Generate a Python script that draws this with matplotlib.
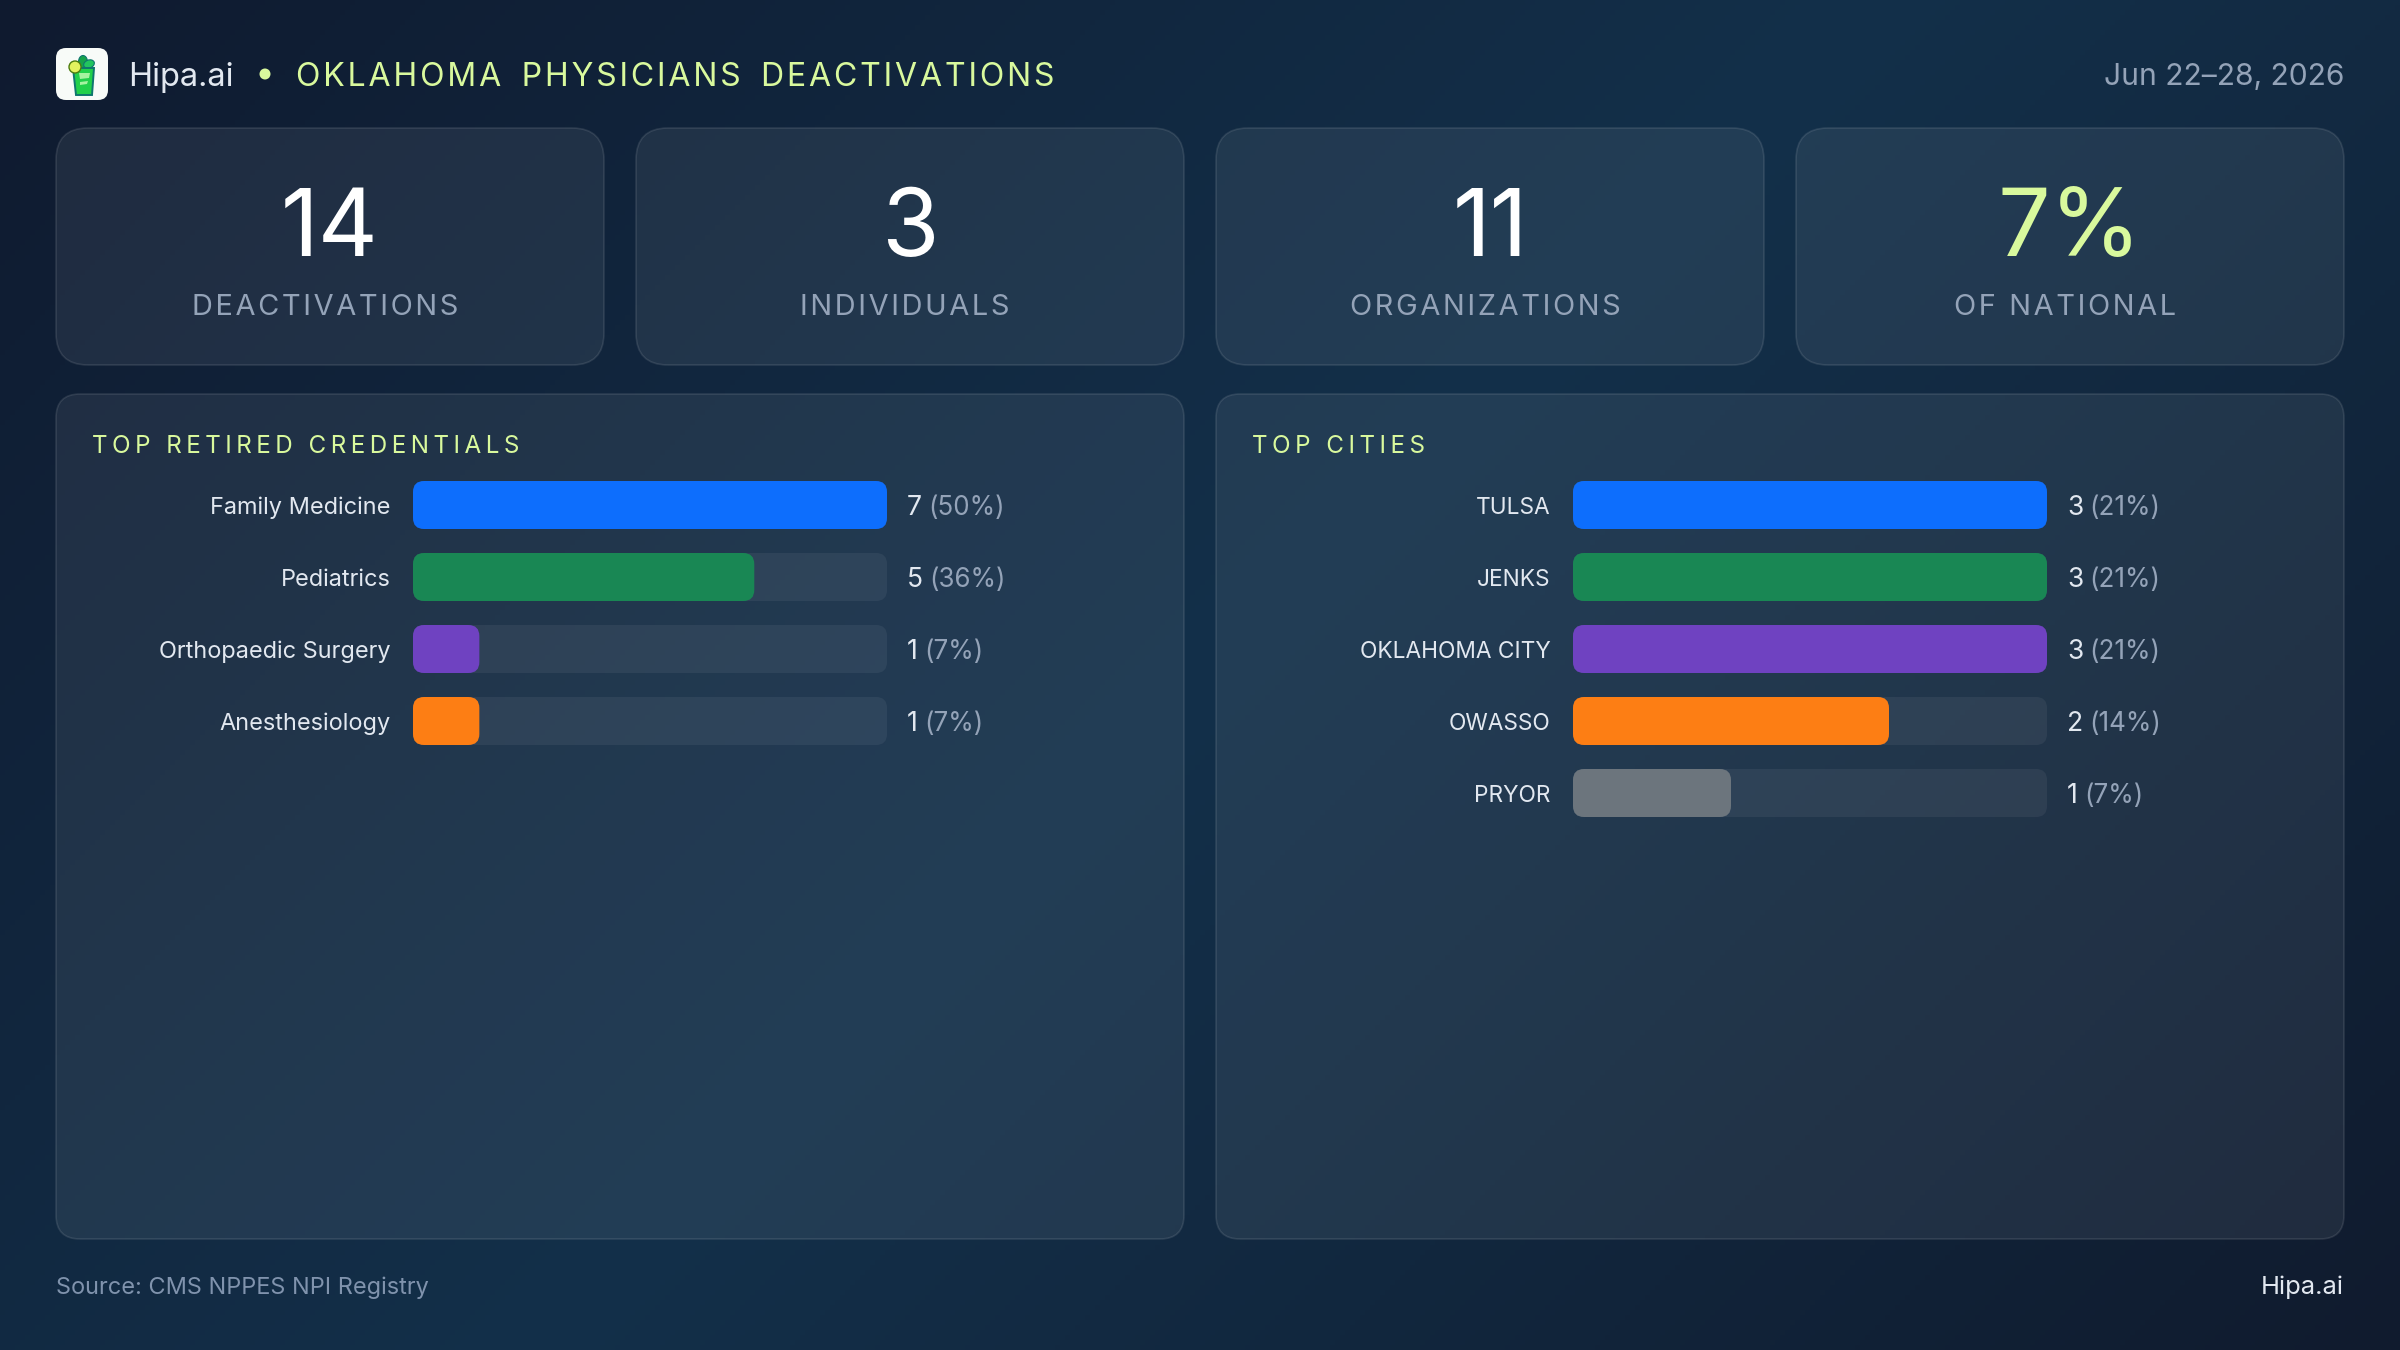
import matplotlib

matplotlib.use("Agg")
import matplotlib.pyplot as plt
import numpy as np
from matplotlib.colors import LinearSegmentedColormap
from matplotlib.patches import Circle, Ellipse, FancyBboxPatch, Polygon

W, H = 2400, 1350
PT = 0.72  # px to pt at dpi=100
FONT = ["Inter", "DejaVu Sans"]

ACCENT = "#d9f99d"
LIGHT = "#e2e8f0"
MUTED = "#94a3b8"
BAR_COLORS = ["#0d6efd", "#198754", "#6f42c1", "#fd7e14", "#6c757d"]

stat_values = ["14", "3", "11", "7%"]
stat_labels = ["DEACTIVATIONS", "INDIVIDUALS", "ORGANIZATIONS", "OF NATIONAL"]

credential_names = ["Family Medicine", "Pediatrics", "Orthopaedic Surgery", "Anesthesiology"]
credential_counts = [7, 5, 1, 1]
credential_shares = [50, 36, 7, 7]

city_names = ["TULSA", "JENKS", "OKLAHOMA CITY", "OWASSO", "PRYOR"]
city_counts = [3, 3, 3, 2, 1]
city_shares = [21, 21, 21, 14, 7]

plt.rcParams["font.family"] = FONT
fig = plt.figure(figsize=(W / 100, H / 100), dpi=100)

# full-figure axes in pixel coordinates, y pointing down
page = fig.add_axes([0, 0, 1, 1])
page.set_xlim(0, W)
page.set_ylim(H, 0)
page.axis("off")

# 135deg page gradient
xx, yy = np.meshgrid(np.linspace(0, 1, 480), np.linspace(0, 1, 270))
ramp = (xx * W + yy * H) / (W + H)
cmap = LinearSegmentedColormap.from_list("page", ["#0f1a2f", "#13304a", "#101b2e"])
page.imshow(ramp, cmap=cmap, vmin=0, vmax=1, extent=(0, W, H, 0), aspect="auto", zorder=0)


def tracked(text, hair=1, word_gap=0):
    # no letter-spacing in matplotlib, so pad with hair spaces
    spaced = ("\u200a" * hair).join(text)
    return spaced.replace(" ", "\u200a" * word_gap + " " + "\u200a" * word_gap)


def label(x, y, text, size, color, ha="left", ax=page):
    return ax.text(x, y, text, fontsize=size * PT, color=color, ha=ha, va="baseline", zorder=5)


def card(x0, y0, x1, y1, radius):
    page.add_patch(FancyBboxPatch(
        (x0, y0), x1 - x0, y1 - y0, boxstyle=f"round,pad=0,rounding_size={radius}",
        facecolor=(1, 1, 1, 0.07), edgecolor=(1, 1, 1, 0.1), linewidth=1.2, zorder=1,
    ))


def draw_logo():
    page.add_patch(FancyBboxPatch(
        (56, 48), 52, 52, boxstyle="round,pad=0,rounding_size=10",
        facecolor="#f8fbf8", edgecolor="none", zorder=2,
    ))
    page.add_patch(Ellipse((83, 62), 9, 13, facecolor="#16a34a", edgecolor="#0f766e", linewidth=0.8, zorder=3))
    page.add_patch(Ellipse((89, 64), 11, 8, angle=-20, facecolor="#22c55e", edgecolor="#0f766e", linewidth=0.8, zorder=3))
    page.add_patch(Polygon([(73, 68), (94, 68), (92, 95), (76, 95)], closed=True,
                           facecolor="#22d04a", edgecolor="#0f766e", linewidth=1.4, zorder=3))
    page.add_patch(Polygon([(79, 73), (90, 73), (89, 78), (80, 79)], closed=True,
                           facecolor="#a7f3a0", edgecolor="none", zorder=4))
    page.add_patch(Polygon([(80, 82), (88, 81), (87, 84), (80, 85)], closed=True,
                           facecolor="#a7f3a0", edgecolor="none", zorder=4))
    page.add_patch(Circle((75, 67), 6, facecolor="#e3f25e", edgecolor="#4d7c0f", linewidth=1, zorder=4))


def bar_chart(x0, names, counts, shares, name_size):
    track_w, pitch = 474, 72
    top = 481 - (pitch - 48) / 2
    ax = fig.add_axes([
        x0 / W, 1 - (top + pitch * len(names)) / H, track_w / W, pitch * len(names) / H,
    ])
    # bar length follows the share, scaled to the largest share in the panel
    peak = max(shares)
    ax.set_xlim(0, peak)
    ax.set_ylim(len(names) - 0.5, -0.5)
    ax.axis("off")

    h = 48 / pitch
    rx = 11 * peak / track_w
    aspect = (11 / pitch) / rx
    for i, (name, count, share) in enumerate(zip(names, counts, shares)):
        y = i - h / 2
        for width, color, z in [(peak, (1, 1, 1, 0.06), 2), (share, BAR_COLORS[i], 3)]:
            ax.add_patch(FancyBboxPatch(
                (0, y), width, h, boxstyle=f"round,pad=0,rounding_size={rx}",
                mutation_aspect=aspect, facecolor=color, edgecolor="none", zorder=z,
            ))
        baseline = i + 9 / pitch
        ax.annotate(name, (0, baseline), xytext=(-22.5 * PT, 0), textcoords="offset points",
                    ha="right", va="baseline", fontsize=name_size * PT, color=LIGHT, annotation_clip=False)
        num = ax.annotate(str(count), (peak, baseline + 1 / pitch), xytext=(20 * PT, 0),
                          textcoords="offset points", ha="left", va="baseline",
                          fontsize=26.5 * PT, color=LIGHT, annotation_clip=False)
        ax.annotate(f"({share}%)", xy=(1, 0), xycoords=num, xytext=(6 * PT, 0),
                    textcoords="offset points", ha="left", va="bottom",
                    fontsize=26 * PT, color=MUTED, annotation_clip=False)


draw_logo()
label(128, 86, "Hipa.ai", 32.5, LIGHT)
page.add_patch(Circle((265, 74), 5.5, facecolor=ACCENT, edgecolor="none", zorder=5))
label(296, 86, tracked("OKLAHOMA PHYSICIANS DEACTIVATIONS", word_gap=1), 32, ACCENT)
label(2344, 85, "Jun 22\u201328, 2026", 30, MUTED, ha="right")

for i, (value, text) in enumerate(zip(stat_values, stat_labels)):
    x0 = 56 + i * 580
    card(x0, 128, x0 + 548, 365, 32)
    center = x0 + 274
    color = ACCENT if value.endswith("%") else "white"
    label(center, 256, value, 93, color, ha="center")
    label(center - 5, 315, tracked(text), 29, MUTED, ha="center")

for x0, title, names, counts, shares, name_size in [
    (56, "TOP RETIRED CREDENTIALS", credential_names, credential_counts, credential_shares, 23.5),
    (1216, "TOP CITIES", city_names, city_counts, city_shares, 22.7),
]:
    card(x0, 394, x0 + 1128, 1239, 24)
    label(x0 + 36, 453, tracked(title, hair=2), 24.2, ACCENT)
    bar_chart(x0 + 357, names, counts, shares, name_size)

label(56, 1294, "Source: CMS NPPES NPI Registry", 23.5, "#8093ad")
label(2344, 1294, "Hipa.ai", 25.5, LIGHT, ha="right")

fig.savefig("out.png", dpi=100, facecolor="#0f172a")
plt.close(fig)
